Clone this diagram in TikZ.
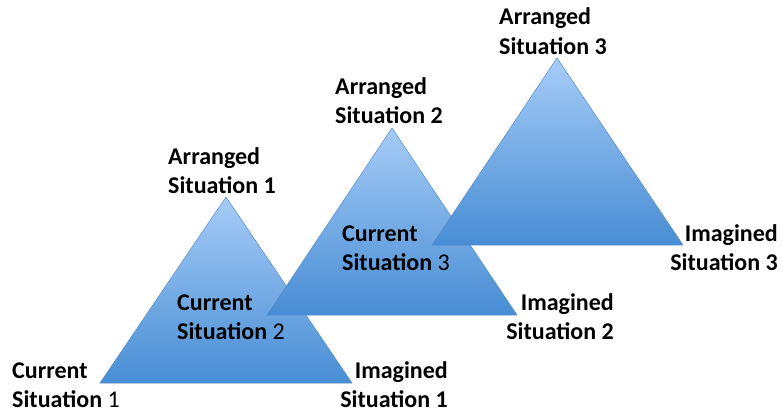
\documentclass[tikz,border=0pt]{standalone}
\usepackage{fontspec}
\setmainfont{Carlito}
\usepackage{tikz}
\usetikzlibrary{calc, positioning}

\definecolor{TriTop}{RGB}{166,204,247}
\definecolor{TriBottom}{RGB}{72,141,212}
\definecolor{TriEdge}{RGB}{88,140,200}

\begin{document}
\begin{tikzpicture}
[
    x = 1pt, y = -1pt,
    every node/.style = {inner sep = 0pt, font = \fontsize{24}{29}\selectfont\bfseries},
  ]

  \tikzset{TriangleStyle/.style = {top color    = TriTop,
                                   bottom color = TriBottom,
                                   draw         = TriEdge,
                                   line width   = 0.5pt},
           LeftLabel/.style    = {align = left,  anchor = base west},
           RightLabel/.style   = {align = right, anchor = base east}}

  \useasboundingbox (0,0) rectangle (783,412);

  % corners of the three triangles
  \coordinate (a1) at (226,197);
  \coordinate (c1) at (100,383);
  \coordinate (i1) at (352,383);

  \coordinate (a2) at (392,128);
  \coordinate (c2) at (267,315);
  \coordinate (i2) at (517,315);

  \coordinate (a3) at (557,58);
  \coordinate (c3) at (432,245);
  \coordinate (i3) at (683,245);

  \shade[TriangleStyle] (a1) -- (c1) -- (i1) -- cycle;
  \shade[TriangleStyle] (a2) -- (c2) -- (i2) -- cycle;
  \shade[TriangleStyle] (a3) -- (c3) -- (i3) -- cycle;

  % anchors sit on the baseline of the second line
  \node[LeftLabel](arr1) at (168,193) {Arranged\\Situation 1};
  \node[LeftLabel](arr2) at (335,123) {Arranged\\Situation 2};
  \node[LeftLabel](arr3) at (499,54)  {Arranged\\Situation 3};

  \node[LeftLabel](cur1) at (12,407)  {Current\\Situation \textmd{1}};
  \node[LeftLabel](cur2) at (177,339) {Current\\Situation \textmd{2}};
  \node[LeftLabel](cur3) at (342,270) {Current\\Situation \textmd{3}};

  \node[RightLabel](ima1) at (448,407) {Imagined\\Situation 1};
  \node[RightLabel](ima2) at (614,339) {Imagined\\Situation 2};
  \node[RightLabel](ima3) at (778,270) {Imagined\\Situation 3};
\end{tikzpicture}
\end{document}
